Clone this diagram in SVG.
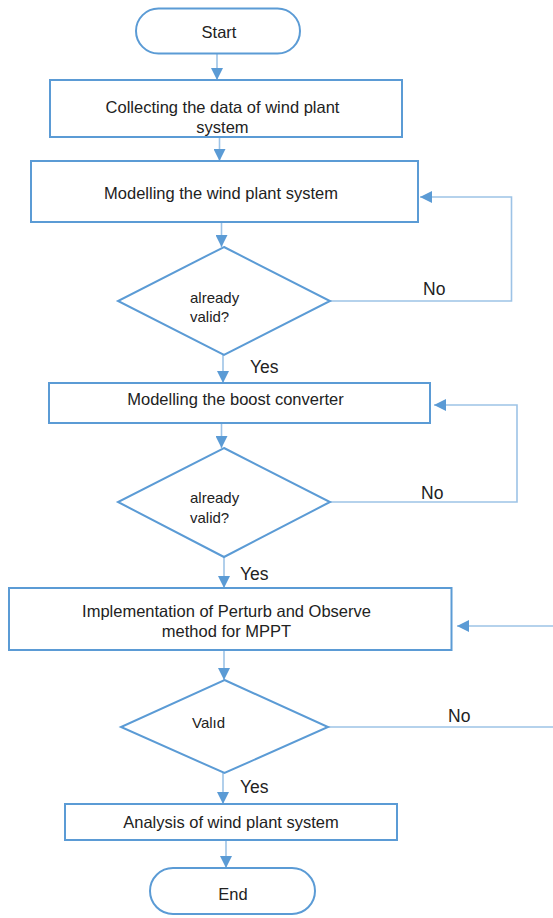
<svg xmlns="http://www.w3.org/2000/svg" width="553" height="918" viewBox="0 0 553 918">
<style>
.shape{fill:#fff;stroke:#5b9bd5;stroke-width:2}
.conn{fill:none;stroke:#9dc3e6;stroke-width:1.6}
.t{font-family:"Liberation Sans",Arial,sans-serif;fill:#222;font-size:16.5px}
.c{text-anchor:middle}
.s{font-size:15px}
.lbl{font-size:17.5px}
</style>
<defs>
<marker id="ah" markerUnits="userSpaceOnUse" markerWidth="12" markerHeight="12" viewBox="0 0 10 10" refX="10" refY="5" orient="auto">
<path d="M0,0 L10,5 L0,10 z" fill="#5b9bd5"/>
</marker>
</defs>
<rect width="553" height="918" fill="#fff"/>
<g id="connectors">
<path class="conn" d="M217,53 V80" marker-end="url(#ah)"/>
<path class="conn" d="M219.5,137 V161" marker-end="url(#ah)"/>
<path class="conn" d="M221.5,222 V247" marker-end="url(#ah)"/>
<path class="conn" d="M223,355 V383" marker-end="url(#ah)"/>
<path class="conn" d="M221.5,423 V448" marker-end="url(#ah)"/>
<path class="conn" d="M224,557 V588" marker-end="url(#ah)"/>
<path class="conn" d="M224,650 V680" marker-end="url(#ah)"/>
<path class="conn" d="M223,773 V804" marker-end="url(#ah)"/>
<path class="conn" d="M226,840 V868" marker-end="url(#ah)"/>
<path class="conn" d="M330,301 H511.5 V197 H420" marker-end="url(#ah)"/>
<path class="conn" d="M330,502 H517 V405 H434" marker-end="url(#ah)"/>
<path class="conn" d="M328,727 H553"/>
<path class="conn" d="M553,626 H457" marker-end="url(#ah)"/>
<text class="t lbl" x="423" y="295">No</text>
<text class="t lbl" x="421" y="499">No</text>
<text class="t lbl" x="448" y="722">No</text>
<text class="t lbl" x="250" y="373">Yes</text>
<text class="t lbl" x="240" y="580">Yes</text>
<text class="t lbl" x="240" y="793">Yes</text>
</g>
<g id="start">
<rect class="shape" x="136" y="8.5" width="164" height="45" rx="22.5"/>
<text class="t c" x="219" y="38">Start</text>
</g>
<g id="collect">
<rect class="shape" x="50" y="80" width="352" height="57"/>
<text class="t c" x="222.5" y="113">Collecting the data of wind plant</text>
<text class="t c" x="222.5" y="133">system</text>
</g>
<g id="model-wind">
<rect class="shape" x="31" y="161" width="387" height="61"/>
<text class="t c" x="221" y="199">Modelling the wind plant system</text>
</g>
<g id="valid1">
<polygon class="shape" points="224,247 330,301 224,355 118,301"/>
<text class="t s" x="190" y="303">already</text>
<text class="t s" x="190" y="322">valid?</text>
</g>
<g id="model-boost">
<rect class="shape" x="49" y="383" width="381" height="40"/>
<text class="t c" x="235.5" y="405">Modelling the boost converter</text>
</g>
<g id="valid2">
<polygon class="shape" points="224,448 330,502 224,557 118,502"/>
<text class="t s" x="190" y="503">already</text>
<text class="t s" x="190" y="523">valid?</text>
</g>
<g id="po">
<rect class="shape" x="9" y="588" width="442.5" height="62"/>
<text class="t c" x="226.5" y="617">Implementation of Perturb and Observe</text>
<text class="t c" x="226.5" y="637">method for MPPT</text>
</g>
<g id="valid3">
<polygon class="shape" points="224.5,680 328,727 224.5,773 121,727"/>
<text class="t s" x="192" y="728">Valıd</text>
</g>
<g id="analysis">
<rect class="shape" x="65" y="804" width="332" height="36"/>
<text class="t c" x="231" y="828">Analysis of wind plant system</text>
</g>
<g id="end">
<rect class="shape" x="150" y="868" width="165" height="46" rx="23"/>
<text class="t c" x="233" y="900">End</text>
</g>
</svg>
